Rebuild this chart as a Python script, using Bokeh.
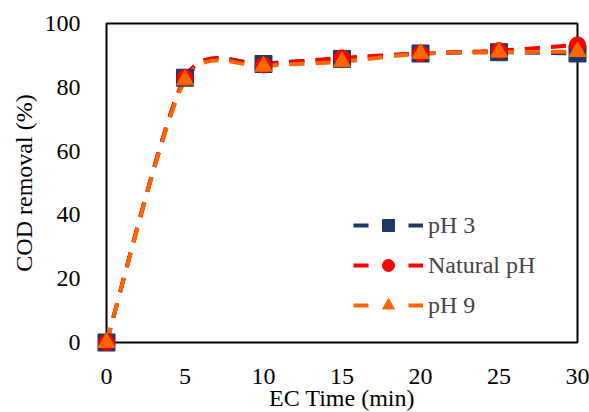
import math
from bokeh.plotting import figure
from bokeh.models import ColumnDataSource, Range1d, Legend, LegendItem
from bokeh.core.properties import value
from bokeh.embed import file_html
from bokeh.resources import INLINE

# ---- data ----
time_min = [0, 5, 10, 15, 20, 25, 30]
ph3 = [0, 83.0, 87.3, 88.9, 90.6, 91.0, 90.6]
natural_ph = [0, 83.0, 87.0, 89.2, 90.6, 91.5, 93.3]
ph9 = [0, 82.3, 86.6, 88.0, 90.6, 91.0, 91.2]
series_names = ["pH 3", "Natural pH", "pH 9"]
x_ticks = [0, 5, 10, 15, 20, 25, 30]
y_ticks = [0, 20, 40, 60, 80, 100]
x_title = "EC Time (min)"
y_title = "COD removal (%)"

# ---- layout / style ----
W, H = 589, 412
X0PX, X1PX = 106, 577      # pixel columns of the x-axis ends
Y0PX, Y1PX = 342, 23       # pixel rows of the y-axis ends
colors = ["#203864", "#FF0000", "#FF6600"]
markers = ["square", "circle", "triangle"]
msizes = [17, 16, 17]
FONT = "Liberation Serif"
FS = "24px"

sx = (X1PX - X0PX) / (x_ticks[-1] - x_ticks[0])
sy = (Y0PX - Y1PX) / (y_ticks[-1] - y_ticks[0])
x_range = Range1d(x_ticks[0] - X0PX / sx, x_ticks[-1] + (W - X1PX) / sx)
y_range = Range1d(y_ticks[0] - (H - Y0PX) / sy, y_ticks[-1] + Y1PX / sy)

p = figure(width=W, height=H, output_backend="svg", toolbar_location=None,
           x_range=x_range, y_range=y_range, x_axis_location=None, y_axis_location=None,
           min_border=0)
p.xgrid.visible = False
p.ygrid.visible = False
p.outline_line_color = None
p.background_fill_color = "white"
p.border_fill_color = "white"

# plot-area box (the axis frame)
p.quad(left=x_ticks[0], right=x_ticks[-1], bottom=y_ticks[0], top=y_ticks[-1],
       fill_alpha=0, line_color="black", line_width=2)

# tick labels and axis titles
txt = dict(text_font=value(FONT), text_font_size=value(FS), text_color="black")
p.text(x=x_ticks, y=[y_ticks[0] - 34 / sy] * len(x_ticks), text=[str(t) for t in x_ticks],
       text_align="center", text_baseline="middle", **txt)
p.text(x=[x_ticks[0] - 26 / sx] * len(y_ticks), y=y_ticks, text=[str(t) for t in y_ticks],
       text_align="right", text_baseline="middle", **txt)
p.text(x=[(x_ticks[0] + x_ticks[-1]) / 2], y=[y_ticks[0] - 55 / sy], text=[x_title],
       text_align="center", text_baseline="middle", **txt)
p.text(x=[x_ticks[0] - 83 / sx], y=[(y_ticks[0] + y_ticks[-1]) / 2], text=[y_title],
       angle=math.pi / 2, text_align="center", text_baseline="middle", **txt)


def smooth_segments(xs, ys, k=0.13):
    n = len(xs)
    d = dict(x0=[], y0=[], x1=[], y1=[], cx0=[], cy0=[], cx1=[], cy1=[])
    for i in range(n - 1):
        pm = i - 1 if i > 0 else i
        pp = i + 2 if i + 2 < n else i + 1
        d["x0"].append(xs[i]); d["y0"].append(ys[i])
        d["x1"].append(xs[i + 1]); d["y1"].append(ys[i + 1])
        d["cx0"].append(xs[i] + k * (xs[i + 1] - xs[pm]))
        d["cy0"].append(ys[i] + k * (ys[i + 1] - ys[pm]))
        d["cx1"].append(xs[i + 1] - k * (xs[pp] - xs[i]))
        d["cy1"].append(ys[i + 1] - k * (ys[pp] - ys[i]))
    return d

DASH = "15 11"
LEGEND_DASH = "15 40"
for name, ys, c in zip(series_names, [ph3, natural_ph, ph9], colors):
    src = ColumnDataSource(smooth_segments(time_min, ys))
    p.bezier(x0="x0", y0="y0", x1="x1", y1="y1", cx0="cx0", cy0="cy0", cx1="cx1", cy1="cy1",
             source=src, line_color=c, line_width=4, line_dash=DASH)

items = []
nan = float("nan")
for name, ys, c, m, s in zip(series_names, [ph3, natural_ph, ph9], colors, markers, msizes):
    r = p.scatter(time_min, ys, marker=m, size=s, fill_color=c, line_color=c, line_width=1)
    dummy = p.line(x=[nan], y=[nan], line_color=c, line_width=4, line_dash=LEGEND_DASH)
    items.append(LegendItem(label=name, renderers=[dummy, r]))

legend = Legend(items=items, location=(353, 92), glyph_width=70, glyph_height=30,
                label_height=30, spacing=10, padding=0, margin=0,
                border_line_alpha=0, background_fill_alpha=0,
                label_text_font=FONT, label_text_font_size=FS, label_standoff=5)
p.add_layout(legend)

open("out.html", "w").write(file_html(p, INLINE))
